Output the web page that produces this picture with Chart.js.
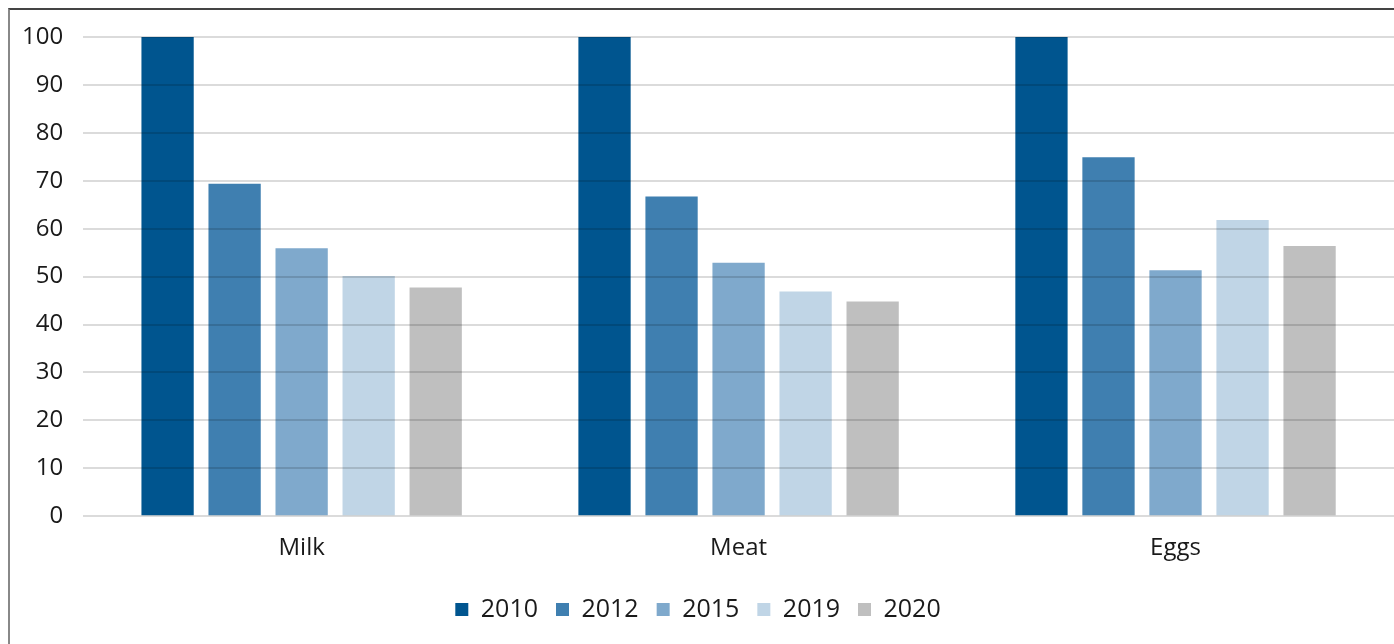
<!DOCTYPE html>
<html>
<head>
<meta charset="utf-8">
<script src="https://cdn.jsdelivr.net/npm/chart.js@4/dist/chart.umd.min.js"></script>
<style>
  body { margin: 0; background: #fff; }
  #frame { position: absolute; left: 8px; top: 8px; width: 1386px; height: 636px; border-top: 2px solid #444; border-left: 2px solid #888; }
  #wrap { position: absolute; left: 0; top: 0; width: 1394px; height: 644px; }
</style>
</head>
<body>
<div id="frame"></div>
<div id="wrap"><canvas id="grafico"></canvas></div>
<script>
let categorias = ['Milk', 'Meat', 'Eggs']
let anios = ['2010', '2012', '2015', '2019', '2020']
let v2010 = [100, 100, 100]
let v2012 = [69.4, 66.7, 74.9]
let v2015 = [55.9, 52.9, 51.3]
let v2019 = [50.1, 46.9, 61.8]
let v2020 = [47.7, 44.8, 56.4]
let ticksY = [0, 10, 20, 30, 40, 50, 60, 70, 80, 90, 100]

let colores = ['#00558f', '#3f7fb0', '#7fa9cc', '#c0d5e6', '#bfbfbf']
let valores = [v2010, v2012, v2015, v2019, v2020]

let datasets = anios.map((a, i) => ({
    label: a,
    data: valores[i],
    backgroundColor: colores[i],
    categoryPercentage: 0.767,
    barPercentage: 0.78
}))

let ctx = document.getElementById('grafico').getContext('2d')
let miGrafico = new Chart(ctx, {
    type: 'bar',
    data: { labels: categorias, datasets: datasets },
    options: {
        responsive: true,
        maintainAspectRatio: false,
        animation: false,
        layout: { padding: { top: 37, right: 0, left: 2, bottom: 12 } },
        scales: {
            x: {
                grid: { display: false },
                border: { display: false },
                afterFit: axis => { axis.height += 6 },
                ticks: { color: '#1a1a1a', font: { family: 'Open Sans', size: 24 }, padding: 10 }
            },
            y: {
                min: 0,
                max: 100,
                afterBuildTicks: axis => { axis.ticks = ticksY.map(v => ({ value: v })) },
                grid: { color: 'rgba(0,0,0,0.14)', lineWidth: 2, drawTicks: false, z: 1 },
                border: { display: false },
                ticks: { color: '#1a1a1a', font: { family: 'Open Sans', size: 24 }, padding: 20 }
            }
        },
        plugins: {
            legend: {
                position: 'bottom',
                labels: {
                    color: '#1a1a1a',
                    font: { family: 'Open Sans', size: 25 },
                    boxWidth: 13,
                    boxHeight: 13,
                    padding: 18
                }
            },
            tooltip: { enabled: false }
        }
    }
})
</script>
</body>
</html>
